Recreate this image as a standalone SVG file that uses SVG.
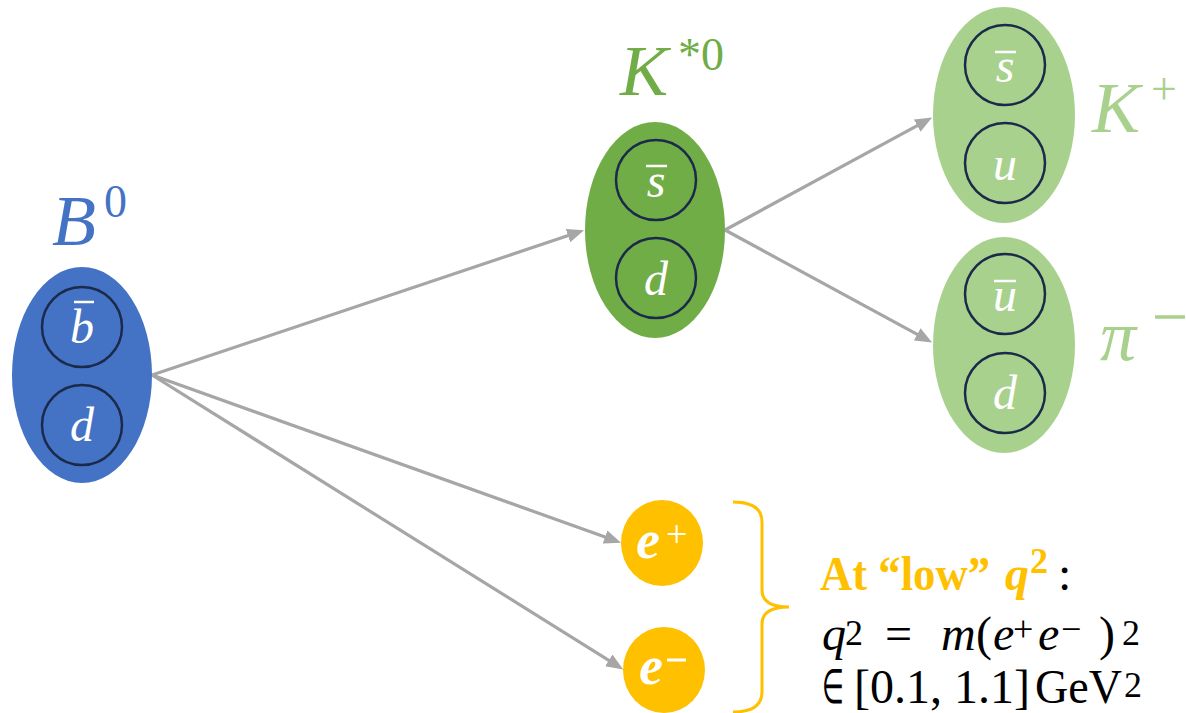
<svg xmlns="http://www.w3.org/2000/svg" width="1186" height="713" viewBox="0 0 1186 713">
<defs>
<style>
.q{fill:none;stroke:#1B2A4A;stroke-width:2.5}
.ql{font-family:"Liberation Serif",serif;font-style:italic;font-size:48px;fill:#fff;text-anchor:middle}
.bar{stroke:#fff;stroke-width:2.5}
.lab{font-family:"Liberation Serif",serif;font-style:italic;font-size:72px}
.sup{font-family:"Liberation Serif",serif;font-size:46px}
.conn{stroke:#A6A6A6;stroke-width:3.2;fill:none}
.ee{font-family:"Liberation Serif",serif;font-style:italic;font-weight:bold;font-size:54px;fill:#fff}
.es{font-family:"Liberation Serif",serif;font-size:38px;fill:#fff}
.t{font-family:"Liberation Serif",serif;font-size:48px;fill:#000}
.ts{font-family:"Liberation Serif",serif;font-size:36px;fill:#000}
.ti{font-family:"Liberation Serif",serif;font-style:italic;font-size:48px;fill:#000}
.or{fill:#FFC000;font-weight:bold}
</style>
<marker id="ah" viewBox="0 0 17 14" refX="9" refY="7" markerWidth="17" markerHeight="14" markerUnits="userSpaceOnUse" orient="auto">
<path d="M0,0 L17,7 L0,14 z" fill="#A6A6A6"/>
</marker>
</defs>
<rect width="1186" height="713" fill="#fff"/>

<g id="connectors">
<line class="conn" x1="152" y1="375" x2="576.5" y2="232.8" marker-end="url(#ah)"/>
<line class="conn" x1="725" y1="230" x2="925.1" y2="121.3" marker-end="url(#ah)"/>
<line class="conn" x1="725" y1="230" x2="925.1" y2="338.7" marker-end="url(#ah)"/>
<line class="conn" x1="152" y1="375" x2="613.5" y2="540" marker-end="url(#ah)"/>
<line class="conn" x1="152" y1="375" x2="616.4" y2="665.2" marker-end="url(#ah)"/>
</g>

<g id="B0">
<ellipse cx="82" cy="375" rx="70" ry="108" fill="#4472C4"/>
<circle class="q" cx="82" cy="327" r="40"/>
<circle class="q" cx="82" cy="425" r="40"/>
<text class="ql" x="82" y="343">b</text>
<line class="bar" x1="74" y1="302" x2="94" y2="302"/>
<text class="ql" x="82" y="441">d</text>
<text class="lab" x="52" y="245" fill="#4472C4">B</text>
<text class="sup" x="104" y="217" fill="#4472C4">0</text>
</g>

<g id="Kstar0">
<ellipse cx="655" cy="230" rx="70" ry="108" fill="#70AD47"/>
<circle class="q" cx="656" cy="180" r="40"/>
<circle class="q" cx="656" cy="278" r="40"/>
<text class="ql" x="656" y="197">s</text>
<line class="bar" x1="646" y1="166" x2="667" y2="166"/>
<text class="ql" x="656" y="295">d</text>
<text class="lab" x="620" y="95" fill="#70AD47">K</text>
<text class="sup" x="678" y="70" fill="#70AD47">*0</text>
</g>

<g id="Kplus">
<ellipse cx="1004" cy="115" rx="71" ry="108" fill="#A9D18E"/>
<circle class="q" cx="1005" cy="65" r="40"/>
<circle class="q" cx="1005" cy="163" r="40"/>
<text class="ql" x="1005" y="82">s</text>
<line class="bar" x1="995" y1="52" x2="1016" y2="52"/>
<text class="ql" x="1005" y="180">u</text>
<text class="lab" x="1092" y="132" fill="#A9D18E">K</text>
<text class="sup" x="1151" y="104" fill="#A9D18E" font-size="50px">+</text>
</g>

<g id="piminus">
<ellipse cx="1004" cy="345" rx="71" ry="108" fill="#A9D18E"/>
<circle class="q" cx="1005" cy="294" r="40"/>
<circle class="q" cx="1005" cy="393" r="40"/>
<text class="ql" x="1005" y="311">u</text>
<line class="bar" x1="994" y1="281" x2="1016" y2="281"/>
<text class="ql" x="1005" y="409">d</text>
<text class="lab" x="1100" y="360" fill="#A9D18E">π</text>
<line x1="1155" y1="317" x2="1185" y2="317" stroke="#A9D18E" stroke-width="3.5"/>
</g>

<g id="eplus">
<ellipse cx="662" cy="543" rx="41" ry="43" fill="#FFC000"/>
<text class="ee" x="636" y="558">e</text>
<text class="es" x="666" y="547">+</text>
</g>

<g id="eminus">
<ellipse cx="664" cy="670" rx="41" ry="43" fill="#FFC000"/>
<text class="ee" x="639" y="684">e</text>
<line x1="667" y1="660" x2="686" y2="660" stroke="#fff" stroke-width="3"/>
</g>

<g id="brace">
<path d="M733,502 Q762,502 762,522 L762,590 Q762,607 789,607 Q762,607 762,624 L762,692 Q762,712 733,712" fill="none" stroke="#FFC000" stroke-width="3"/>
</g>

<g id="note">
<text class="t or" x="820" y="590" textLength="170" lengthAdjust="spacingAndGlyphs">At “low”</text>
<text class="ti or" x="1005" y="590">q</text>
<text class="ts or" x="1030" y="573">2</text>
<text class="t" x="1058" y="590">:</text>

<text class="ti" x="822" y="650">q</text>
<text class="ts" x="845" y="645">2</text>
<text class="t" x="885" y="650">=</text>
<text class="ti" x="941" y="650">m</text>
<text class="t" x="976" y="650">(</text>
<text class="ti" x="993" y="650">e</text>
<text class="ts" x="1013" y="641">+</text>
<text class="ti" x="1038" y="650">e</text>
<text class="ts" x="1061" y="641">−</text>
<text class="t" x="1099" y="650">)</text>
<text class="ts" x="1122" y="645">2</text>

<text class="t" x="822" y="703" textLength="22" lengthAdjust="spacingAndGlyphs">∈</text>
<text class="t" x="854" y="703" textLength="176" lengthAdjust="spacingAndGlyphs">[0.1, 1.1]</text>
<text class="t" x="1035" y="703" textLength="87" lengthAdjust="spacingAndGlyphs">GeV</text>
<text class="ts" x="1124" y="697">2</text>
</g>
</svg>
